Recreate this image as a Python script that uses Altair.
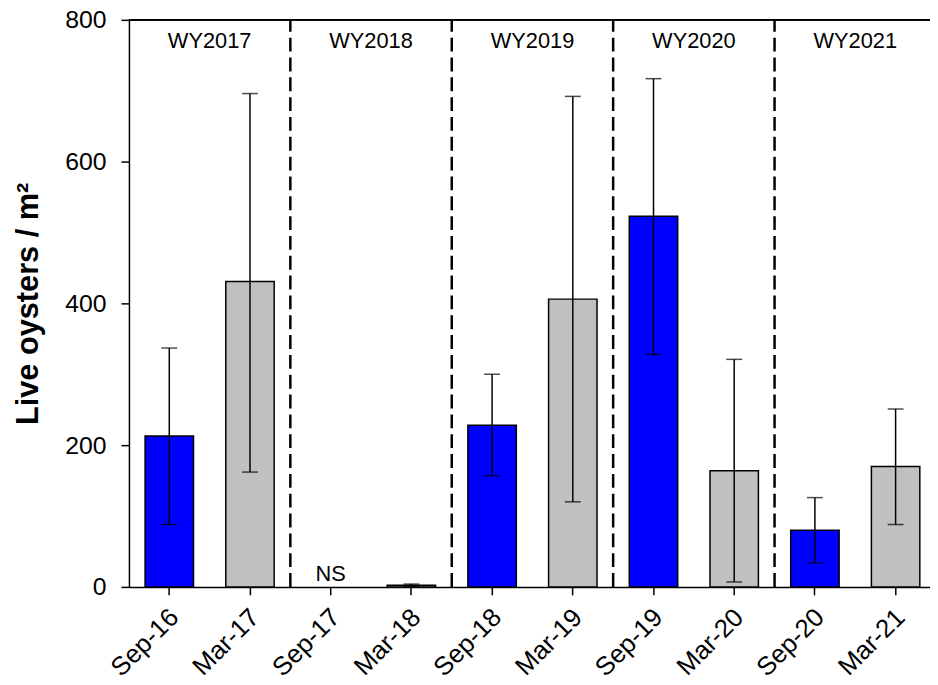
import altair as alt
import pandas as pd

# ---- data ----
labels = ["Sep-16", "Mar-17", "Sep-17", "Mar-18", "Sep-18",
          "Mar-19", "Sep-19", "Mar-20", "Sep-20", "Mar-21"]
seasons = ["Sep", "Mar", "Sep", "Mar", "Sep", "Mar", "Sep", "Mar", "Sep", "Mar"]
means = [213, 431, None, 2.5, 228, 406, 523, 164, 80, 170]
upper = [337, 696, None, 4, 300, 692, 717, 321, 126, 251]
lower = [88, 162, None, 1, 157, 120, 328, 7, 34, 88]

water_years = ["WY2017", "WY2018", "WY2019", "WY2020", "WY2021"]
wy_first = ["Sep-16", "Sep-17", "Sep-18", "Sep-19", "Sep-20"]
divider_after = ["Mar-17", "Mar-18", "Mar-19", "Mar-20"]
ns_labels = ["Sep-17"]
ns_text = ["NS"]
y_ticks = [0, 200, 400, 600, 800]

FONT = "Arial, Liberation Sans, sans-serif"
W, H = 808, 572
STEP = 81.4

df = pd.DataFrame({"label": labels, "season": seasons, "mean": means,
                   "upper": upper, "lower": lower}).dropna()
wy_df = pd.DataFrame({"label": wy_first, "wy": water_years})
div_df = pd.DataFrame({"label": divider_after})
ns_df = pd.DataFrame({"label": ns_labels, "txt": ns_text})

xscale = alt.Scale(domain=labels, paddingInner=0.4, paddingOuter=0.163, align=0.613)
xaxis = alt.Axis(title=None, labelAngle=-45, labelAlign="right", labelBaseline="top",
                 labelFontSize=26, labelFont=FONT, labelColor="black", labelPadding=9,
                 labelOffset=-4,
                 tickSize=8, tickColor="black", tickWidth=1.5, domainColor="black",
                 domainWidth=1.5, labelOverlap=False)
yscale = alt.Scale(domain=[0, 800], nice=False, zero=True)
yaxis = alt.Axis(values=y_ticks, title="Live oysters / m²", titleFontSize=31,
                 titleFontWeight="bold", titleFont=FONT, titleColor="black",
                 titlePadding=21, labelFontSize=25, labelFont=FONT, labelColor="black",
                 labelPadding=15, tickSize=8, tickColor="black", tickWidth=1.5,
                 domainColor="black", domainWidth=1.5, grid=False)

X = alt.X("label:N", scale=xscale, axis=xaxis)

bars = alt.Chart(df).mark_bar(stroke="black", strokeWidth=1.5).encode(
    x=X,
    y=alt.Y("mean:Q", scale=yscale, axis=yaxis),
    color=alt.Color("season:N", scale=alt.Scale(domain=["Sep", "Mar"],
                                                 range=["#0000FF", "#C0C0C0"]), legend=None),
)

err = alt.Chart(df).mark_rule(color="black", strokeWidth=1.5).encode(
    x=X, y=alt.Y("lower:Q"), y2="upper:Q")
cap_hi = alt.Chart(df).mark_tick(color="black", size=16, thickness=1.5).encode(
    x=X, y=alt.Y("upper:Q"))
cap_lo = alt.Chart(df).mark_tick(color="black", size=16, thickness=1.5).encode(
    x=X, y=alt.Y("lower:Q"))

dividers = alt.Chart(div_df).mark_rule(color="black", strokeWidth=2.5,
                                       strokeDash=[14, 6], xOffset=STEP / 2).encode(
    x=X, y=alt.datum(0), y2=alt.datum(800))

top_line = alt.Chart(div_df).mark_rule(color="black", strokeWidth=1.5).encode(
    y=alt.datum(800))

wy_text = alt.Chart(wy_df).mark_text(fontSize=22, font=FONT, color="black",
                                     xOffset=STEP / 2, baseline="middle").encode(
    x=X, y=alt.datum(770), text="wy:N")

ns = alt.Chart(ns_df).mark_text(fontSize=22, font=FONT, color="black",
                                baseline="alphabetic").encode(
    x=X, y=alt.datum(8), text="txt:N")

chart = alt.layer(bars, err, cap_hi, cap_lo, dividers, top_line, wy_text, ns).properties(
    width=W, height=H,
    autosize=alt.AutoSizeParams(type="none"),
    padding={"left": 122, "top": 9, "right": 0, "bottom": 96},
).configure_view(stroke=None).configure(background="white")

chart.save("out.html", embed_options={"renderer": "svg", "actions": False})
